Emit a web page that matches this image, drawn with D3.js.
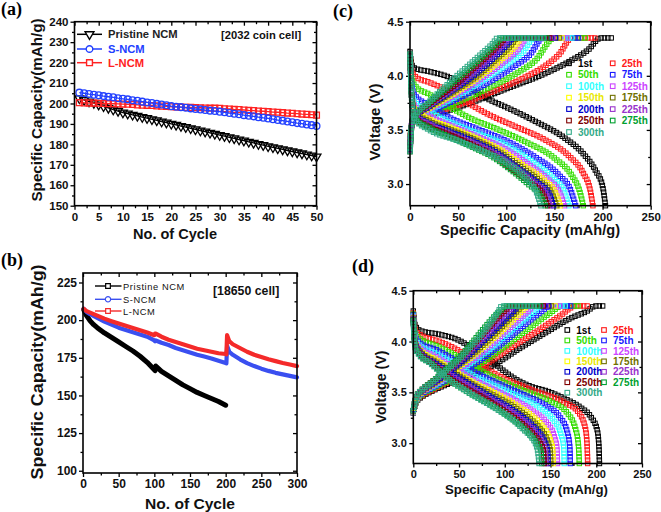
<!DOCTYPE html>
<html><head><meta charset="utf-8">
<script src="https://cdn.jsdelivr.net/npm/d3@7"></script>
<style>
body{margin:0;background:#fff;}
svg{display:block;}
</style></head><body>
<svg id="chart" width="661" height="512"></svg>
<script>
// ---------------- DATA ----------------
// Panel (a): 2032 coin cell, cycles 1..50
const aCycles = d3.range(1, 51);
const aPristine = [202.5,201.7,200.9,200.2,199.4,198.6,197.8,197.0,196.3,195.5,
  195.0,194.4,193.9,193.3,192.8,192.2,191.7,191.1,190.6,190.0,
  189.5,188.9,188.4,187.8,187.3,186.7,186.2,185.6,185.1,184.5,
  184.0,183.4,182.9,182.3,181.8,181.2,180.7,180.1,179.6,179.0,
  178.5,178.0,177.5,177.0,176.5,176.0,175.5,175.0,174.5,174.0];
const aSNCM = [205.3,205.0,204.6,204.3,204.0,203.6,203.3,203.0,202.6,202.3,
  202.0,201.6,201.3,200.9,200.5,200.2,199.8,199.5,199.1,198.7,
  198.4,198.2,197.9,197.6,197.3,197.1,196.8,196.5,196.3,196.0,
  195.7,195.3,195.0,194.7,194.3,194.0,193.7,193.3,193.0,192.7,
  192.3,191.9,191.6,191.2,190.8,190.4,190.1,189.7,189.4,189.0];
const aLNCM = [200.4,200.3,200.2,200.2,200.1,200.0,199.9,199.9,199.8,199.7,
  199.6,199.5,199.3,199.2,199.1,199.0,198.8,198.7,198.6,198.4,
  198.3,198.2,198.1,198.1,198.0,197.9,197.8,197.7,197.7,197.6,
  197.4,197.3,197.1,197.0,196.8,196.6,196.5,196.3,196.2,196.0,
  195.8,195.7,195.5,195.3,195.2,195.0,194.8,194.7,194.5,194.3];
const aYTicks = [150,160,170,180,190,200,210,220,230,240];
const aXTicks = [0,5,10,15,20,25,30,35,40,45,50];

// Panel (b): 18650 cell
const bCycP = [1,5,10,15,20,30,40,50,60,70,80,90,100,101,102,110,120,130,140,150,160,170,180,190,200];
const bPristine = [207,203,199.5,197,195,191.5,188.5,185.5,182.5,179.5,176,172,167,166.5,169.5,166,163,160,157,154.5,152,150,148,146,143.5];
const bCycSL = [1,5,10,20,30,40,50,60,70,80,90,100,101,102,110,120,130,140,150,160,170,180,190,200,201,202,205,210,220,230,240,250,260,270,280,290,300];
const bSNCM = [207.5,205.5,204,201.5,199,197,195,193.5,192,190.5,189,186.5,186,186.5,185,183.5,181.5,180,178.5,177,175.8,174.5,173,171.5,171.3,183,179,177,174,171.5,169.5,167.8,166.3,165,164,163,162];
const bLNCM = [207.5,206,205,203,201,199.3,197.7,196.2,194.8,193.3,191.8,190,191,191,189,187,185.5,184,182.5,181,180,179,178,177.5,177.3,190,186,184,181.5,179,177,175.5,174,172.8,171.5,170.5,169.5];
const bYTicks = [100,125,150,175,200,225];
const bXTicks = [0,50,100,150,200,250,300];

// Panels (c),(d): charge / discharge profiles
const cycLabels = ["1st","25th","50th","75th","100th","125th","150th","175th","200th","225th","250th","275th","300th"];
const cycColors = ["#000000","#ff1a1a","#33dd00","#1a1aff","#33ffff","#cc44ff","#ffff00","#707000","#0000cc","#9933cc","#800000","#00a030","#33aa88"];
const cdXTicks = [0,50,100,150,200,250];
const cdYTicks = [3.0,3.5,4.0,4.5];

const cCharge = [
 [[0,3.42],[2,3.55],[6,3.61],[20,3.64],[40,3.68],[63,3.75],[100,3.88],[140,4.02],[167,4.14],[185,4.24],[198,4.35],[209,4.35]],
 [[0,3.42],[2,3.56],[6,3.62],[20,3.65],[50,3.73],[90,3.87],[120,3.99],[140,4.09],[155,4.2],[168,4.35],[192,4.35]],
 [[0,3.4],[2,3.56],[6,3.62],[20,3.66],[50,3.76],[80,3.88],[110,4.02],[130,4.14],[150,4.35],[182,4.35]],
 [[0,3.38],[2,3.56],[6,3.62],[20,3.67],[50,3.79],[80,3.93],[105,4.07],[125,4.2],[138,4.35],[175,4.35]],
 [[0,3.36],[2,3.56],[5,3.62],[20,3.68],[50,3.82],[80,3.98],[100,4.1],[118,4.23],[129,4.35],[168,4.35]],
 [[0,3.35],[2,3.56],[5,3.62],[20,3.69],[50,3.84],[75,3.98],[95,4.11],[112,4.24],[122,4.35],[163,4.35]],
 [[0,3.34],[2,3.56],[5,3.62],[20,3.7],[50,3.86],[75,4.01],[92,4.13],[108,4.26],[117,4.35],[158,4.35]],
 [[0,3.33],[2,3.56],[5,3.62],[20,3.71],[50,3.88],[70,4.0],[88,4.14],[104,4.27],[112,4.35],[155,4.35]],
 [[0,3.32],[2,3.56],[5,3.62],[20,3.72],[50,3.9],[70,4.03],[85,4.15],[100,4.28],[108,4.35],[151,4.35]],
 [[0,3.31],[2,3.56],[5,3.62],[20,3.73],[50,3.92],[68,4.05],[82,4.16],[96,4.28],[104,4.35],[148,4.35]],
 [[0,3.3],[2,3.56],[5,3.62],[20,3.74],[50,3.94],[65,4.06],[80,4.18],[93,4.29],[100,4.35],[145,4.35]],
 [[0,3.3],[2,3.56],[5,3.62],[20,3.75],[45,3.94],[62,4.07],[77,4.19],[89,4.29],[96,4.35],[142,4.35]],
 [[0,3.3],[2,3.56],[5,3.62],[20,3.76],[40,3.93],[60,4.09],[75,4.21],[86,4.3],[91,4.35],[139,4.35]]
];
const cDischarge = [
 [[0,4.22],[2,4.1],[5,4.07],[20,4.04],[40,3.99],[60,3.9],[80,3.79],[100,3.71],[130,3.58],[160,3.43],[180,3.28],[193,3.12],[200,2.98],[203,2.8]],
 [[0,4.2],[2,4.04],[6,3.99],[20,3.94],[40,3.86],[60,3.75],[80,3.65],[110,3.53],[140,3.41],[165,3.26],[180,3.1],[187,2.95],[190,2.8]],
 [[0,4.2],[2,3.97],[6,3.9],[20,3.83],[40,3.72],[60,3.62],[90,3.51],[120,3.39],[150,3.24],[168,3.08],[176,2.94],[180,2.8]],
 [[0,4.2],[2,3.9],[5,3.82],[20,3.73],[40,3.62],[70,3.51],[100,3.4],[130,3.25],[155,3.08],[167,2.94],[172,2.8]],
 [[0,4.2],[2,3.85],[5,3.76],[20,3.67],[40,3.58],[70,3.47],[100,3.36],[125,3.22],[148,3.06],[160,2.93],[165,2.8]],
 [[0,4.2],[2,3.82],[5,3.72],[20,3.63],[40,3.55],[70,3.44],[100,3.32],[122,3.19],[144,3.04],[155,2.93],[160.5,2.8]],
 [[0,4.2],[2,3.8],[5,3.69],[20,3.6],[40,3.53],[70,3.42],[95,3.31],[118,3.17],[140,3.03],[151,2.92],[156,2.8]],
 [[0,4.2],[2,3.79],[5,3.67],[20,3.58],[40,3.51],[70,3.4],[92,3.3],[115,3.16],[136,3.02],[147,2.92],[152.5,2.8]],
 [[0,4.2],[2,3.78],[5,3.65],[20,3.56],[40,3.49],[70,3.38],[90,3.29],[112,3.15],[133,3.01],[144,2.92],[149,2.8]],
 [[0,4.2],[2,3.77],[5,3.64],[20,3.55],[40,3.47],[70,3.36],[88,3.28],[110,3.14],[130,3.0],[141,2.91],[146,2.8]],
 [[0,4.2],[2,3.76],[5,3.62],[20,3.53],[40,3.46],[70,3.34],[86,3.27],[107,3.13],[127,3.0],[138,2.91],[143,2.8]],
 [[0,4.2],[2,3.76],[5,3.61],[20,3.52],[40,3.44],[70,3.32],[84,3.26],[105,3.13],[124,2.99],[135,2.9],[140.5,2.8]],
 [[0,4.2],[2,3.75],[5,3.6],[20,3.5],[50,3.4],[80,3.29],[100,3.2],[120,3.06],[131,2.93],[136,2.8]]
];
const dCharge = [
 [[0,3.3],[3,3.4],[10,3.46],[20,3.51],[40,3.59],[60,3.66],[88,3.77],[114,3.92],[147,4.1],[172,4.23],[190,4.3],[199,4.35],[207,4.35]],
 [[0,3.3],[3,3.41],[10,3.47],[20,3.52],[40,3.61],[60,3.69],[80,3.78],[105,3.93],[135,4.1],[160,4.25],[178,4.35],[190,4.35]],
 [[0,3.3],[3,3.41],[10,3.48],[20,3.53],[40,3.62],[60,3.71],[80,3.82],[100,3.95],[125,4.12],[148,4.27],[163,4.35],[180,4.35]],
 [[0,3.3],[3,3.42],[10,3.49],[20,3.54],[40,3.64],[60,3.74],[80,3.86],[100,4.0],[120,4.15],[138,4.28],[150,4.35],[172,4.35]],
 [[0,3.31],[3,3.42],[10,3.5],[20,3.55],[40,3.66],[60,3.77],[80,3.9],[100,4.05],[118,4.19],[132,4.29],[140,4.35],[166,4.35]],
 [[0,3.31],[3,3.43],[10,3.5],[20,3.56],[40,3.67],[60,3.79],[80,3.93],[100,4.09],[115,4.21],[126,4.3],[132,4.35],[160,4.35]],
 [[0,3.31],[3,3.43],[10,3.51],[20,3.57],[40,3.69],[60,3.82],[80,3.97],[95,4.09],[110,4.22],[120,4.31],[125,4.35],[155,4.35]],
 [[0,3.32],[3,3.44],[10,3.51],[20,3.57],[40,3.7],[60,3.84],[78,3.98],[92,4.1],[106,4.23],[115,4.31],[120,4.35],[151,4.35]],
 [[0,3.32],[3,3.44],[10,3.52],[20,3.58],[40,3.71],[60,3.86],[75,3.99],[90,4.12],[103,4.24],[111,4.31],[115,4.35],[148,4.35]],
 [[0,3.32],[3,3.44],[10,3.52],[20,3.59],[40,3.73],[55,3.85],[72,4.0],[86,4.13],[98,4.25],[106,4.32],[110,4.35],[145,4.35]],
 [[0,3.32],[3,3.45],[10,3.53],[20,3.6],[40,3.74],[55,3.87],[70,4.01],[83,4.14],[95,4.26],[102,4.32],[106,4.35],[142,4.35]],
 [[0,3.32],[3,3.45],[10,3.53],[20,3.6],[40,3.76],[55,3.89],[68,4.03],[80,4.16],[90,4.26],[97,4.32],[101,4.35],[139,4.35]],
 [[0,3.32],[3,3.45],[10,3.53],[18,3.58],[30,3.67],[55,3.87],[65,3.97],[75,4.07],[85,4.19],[92,4.28],[97,4.35],[136,4.35]]
];
const dDischarge = [
 [[0,4.3],[2,4.16],[7,4.11],[29,4.07],[48,4.02],[62,3.95],[81,3.84],[92,3.76],[110,3.64],[128,3.56],[147,3.51],[165,3.44],[183,3.35],[194,3.26],[201,3.13],[203,2.95],[203.5,2.8]],
 [[0,4.28],[2,4.12],[7,4.07],[29,4.0],[48,3.92],[73,3.77],[92,3.67],[128,3.53],[165,3.4],[180,3.31],[188,3.15],[190,2.98],[190.6,2.8]],
 [[0,4.27],[2,4.08],[7,4.03],[25,3.96],[45,3.87],[65,3.76],[90,3.64],[120,3.52],[150,3.41],[168,3.3],[177,3.15],[180.5,2.98],[181.5,2.8]],
 [[0,4.26],[2,4.05],[7,3.99],[25,3.92],[45,3.82],[65,3.71],[90,3.6],[120,3.48],[145,3.37],[160,3.26],[168,3.12],[171,2.97],[171.6,2.8]],
 [[0,4.25],[2,4.03],[6,3.97],[25,3.88],[45,3.78],[65,3.67],[90,3.56],[115,3.46],[138,3.35],[153,3.23],[161,3.1],[164.5,2.96],[165,2.8]],
 [[0,4.24],[2,4.01],[6,3.95],[25,3.85],[45,3.74],[65,3.63],[90,3.52],[112,3.42],[132,3.31],[146,3.2],[154,3.07],[157,2.95],[157.6,2.8]],
 [[0,4.23],[2,4.0],[6,3.93],[25,3.82],[45,3.71],[65,3.6],[90,3.49],[110,3.39],[128,3.28],[141,3.17],[149,3.05],[152.3,2.94],[152.9,2.8]],
 [[0,4.23],[2,3.99],[6,3.92],[25,3.8],[45,3.69],[65,3.58],[88,3.47],[108,3.37],[125,3.26],[138,3.15],[146,3.04],[149.7,2.93],[150.3,2.8]],
 [[0,4.22],[2,3.98],[6,3.91],[25,3.78],[45,3.67],[65,3.56],[86,3.45],[105,3.35],[122,3.24],[135,3.13],[143,3.03],[146.8,2.93],[147.4,2.8]],
 [[0,4.22],[2,3.97],[6,3.9],[22,3.78],[42,3.66],[62,3.55],[84,3.43],[103,3.33],[120,3.22],[132,3.12],[140,3.02],[144.2,2.92],[144.8,2.8]],
 [[0,4.21],[2,3.96],[6,3.89],[20,3.79],[40,3.64],[60,3.53],[82,3.42],[101,3.31],[118,3.2],[130,3.1],[138,3.01],[142.4,2.92],[143,2.8]],
 [[0,4.21],[2,3.95],[6,3.88],[20,3.78],[40,3.62],[60,3.5],[80,3.4],[98,3.3],[115,3.19],[127,3.09],[135,3.0],[139.8,2.91],[140.4,2.8]],
 [[0,4.2],[2,3.95],[5.5,3.88],[18,3.79],[37,3.64],[55,3.53],[73,3.43],[92,3.33],[110,3.22],[122,3.12],[128,3.07],[135.6,2.94],[137.5,2.8]]
];

// ---------------- DRAWING ----------------
const FONT = '"Liberation Sans", Arial, Helvetica, sans-serif';
const SERIF = '"Liberation Serif", "Times New Roman", serif';
const svg = d3.select('#chart');
svg.append('rect').attr('width',661).attr('height',512).attr('fill','#fff');

function minorBetween(ticks){
  const out=[]; for(let i=0;i<ticks.length-1;i++) out.push((ticks[i]+ticks[i+1])/2); return out;
}

function drawAxes(g, xs, ys, o){
  const [xa,xb]=xs.range(); const [yb,yt]=ys.range();
  const mk=(fn, sc, vals, size, pad, fmt, tx, ty)=>{
    const a=fn(sc).tickValues(vals).tickSize(size).tickPadding(pad).tickFormat(fmt?fmt:()=> '');
    g.append('g').attr('transform',`translate(${tx},${ty})`).call(a);
  };
  const xMin=o.xMin||minorBetween(o.xMaj), yMin=(o.yMin||minorBetween(o.yMaj)).filter(v=>v>=ys.domain()[0]&&v<=ys.domain()[1]);
  mk(d3.axisBottom, xs, o.xMaj, 4, o.xPad, o.xFmt, 0, yb);
  mk(d3.axisBottom, xs, xMin, 2.5, 0, null, 0, yb);
  mk(d3.axisTop, xs, o.xMaj, -4, 0, null, 0, yt);
  mk(d3.axisTop, xs, xMin, -2.5, 0, null, 0, yt);
  mk(d3.axisLeft, ys, o.yMaj, 4, o.yPad, o.yFmt, xa, 0);
  mk(d3.axisLeft, ys, yMin, 2.5, 0, null, xa, 0);
  mk(d3.axisRight, ys, o.yMaj, -4, 0, null, xb, 0);
  mk(d3.axisRight, ys, yMin, -2.5, 0, null, xb, 0);
  g.selectAll('.domain').remove();
  g.selectAll('.tick line').attr('stroke','#000').attr('stroke-width',1.3);
  g.selectAll('.tick text').attr('font-family',FONT).attr('font-size',o.fs).attr('font-weight','bold').attr('fill','#111');
}
function frame(g, xs, ys){
  const [xa,xb]=xs.range(); const [yb,yt]=ys.range();
  g.append('rect').attr('x',xa).attr('y',yt).attr('width',xb-xa).attr('height',yb-yt)
    .attr('fill','none').attr('stroke','#000').attr('stroke-width',1.6);
}
function yTitle(g, txt, cx, cy, len, fs){
  g.append('text').attr('transform',`translate(${cx},${cy}) rotate(-90)`).attr('text-anchor','middle')
   .attr('dy','0.35em').attr('font-family',FONT).attr('font-weight','bold').attr('font-size',fs)
   .attr('textLength',len).attr('lengthAdjust','spacingAndGlyphs').attr('fill','#111').text(txt);
}
function xTitle(g, txt, cx, by, len, fs){
  g.append('text').attr('x',cx).attr('y',by).attr('text-anchor','middle')
   .attr('font-family',FONT).attr('font-weight','bold').attr('font-size',fs)
   .attr('textLength',len).attr('lengthAdjust','spacingAndGlyphs').attr('fill','#111').text(txt);
}
function panelLabel(txt, x, y){
  svg.append('text').attr('x',x).attr('y',y).attr('font-family',SERIF).attr('font-weight','bold')
    .attr('font-size',18).attr('fill','#000').text(txt);
}

// ===== Panel (a) =====
{
  const g = svg.append('g');
  const xs = d3.scaleLinear().domain([0,50]).range([74.5,316.5]);
  const ys = d3.scaleLinear().domain([150,240]).range([205.7,21.7]);
  drawAxes(g, xs, ys, {xMaj:aXTicks, yMaj:aYTicks, xPad:3, yPad:2, xFmt:d3.format('d'), yFmt:d3.format('d'), fs:11.5});
  const series = [
    {v:aPristine, c:'#000000', sym:'tri'},
    {v:aLNCM, c:'#ff2222', sym:d3.symbolSquare},
    {v:aSNCM, c:'#2240ff', sym:d3.symbolCircle}
  ];
  const line = d3.line().x((d,i)=>xs(aCycles[i])).y(d=>ys(d));
  series.forEach(s=>{
    g.append('path').attr('d',line(s.v)).attr('fill','none').attr('stroke',s.c).attr('stroke-width',1.3);
    g.selectAll(null).data(s.v).enter().append('path')
      .attr('d', s.sym==='tri' ? d3.symbol(d3.symbolTriangle,34)() : d3.symbol(s.sym, s.sym===d3.symbolSquare?34:36)())
      .attr('transform',(d,i)=>`translate(${xs(aCycles[i])},${ys(d)})${s.sym==='tri'?' rotate(180)':''}`)
      .attr('fill','none').attr('stroke',s.c).attr('stroke-width',1.3);
  });
  frame(g, xs, ys);
  // legend
  const leg = [
    {t:'Pristine NCM', c:'#000000', sym:'tri', tc:'#222'},
    {t:'S-NCM', c:'#2240ff', sym:d3.symbolCircle, tc:'#2240ff'},
    {t:'L-NCM', c:'#ff2222', sym:d3.symbolSquare, tc:'#ff2222'}
  ];
  const rows=[34.3,49,62.7];
  leg.forEach((l,i)=>{
    g.append('line').attr('x1',77).attr('x2',102).attr('y1',rows[i]).attr('y2',rows[i]).attr('stroke',l.c).attr('stroke-width',1.5);
    g.append('path').attr('d', l.sym==='tri'? d3.symbol(d3.symbolTriangle,34)() : d3.symbol(l.sym,34)())
      .attr('transform',`translate(89.5,${rows[i]})${l.sym==='tri'?' rotate(180)':''}`)
      .attr('fill','#fff').attr('stroke',l.c).attr('stroke-width',1.4);
    g.append('text').attr('x',108).attr('y',rows[i]+4).attr('font-family',FONT).attr('font-weight','bold')
      .attr('font-size',11.2).attr('fill',l.tc).text(l.t);
  });
  g.append('text').attr('x',221).attr('y',38.5).attr('font-family',FONT).attr('font-weight','bold')
    .attr('font-size',11.2).attr('fill','#111').text('[2032 coin cell]');
  yTitle(g,'Specific Capacity(mAh/g)',37,110,183,15);
  xTitle(g,'No. of Cycle',175,239,84,14.5);
  panelLabel('(a)',1,15);
}

// ===== Panel (b) =====
{
  const g = svg.append('g');
  const xs = d3.scaleLinear().domain([0,300]).range([83,297]);
  const ys = d3.scaleLinear().domain([98.5,231.3]).range([473,273]);
  drawAxes(g, xs, ys, {xMaj:bXTicks, yMaj:bYTicks, xPad:2.5, yPad:2, xFmt:d3.format('d'), yFmt:d3.format('d'), fs:12});
  const series = [
    {x:bCycP, v:bPristine, c:'#000000', w:5},
    {x:bCycSL, v:bSNCM, c:'#3a4ff0', w:4.2},
    {x:bCycSL, v:bLNCM, c:'#f42a2a', w:4.2}
  ];
  series.forEach(s=>{
    const line = d3.line().x((d,i)=>xs(s.x[i])).y(d=>ys(d));
    g.append('path').attr('d',line(s.v)).attr('fill','none').attr('stroke',s.c).attr('stroke-width',s.w)
      .attr('stroke-linejoin','round').attr('stroke-linecap','round');
  });
  frame(g, xs, ys);
  const leg=[
    {t:'Pristine NCM', c:'#000', sym:d3.symbolSquare},
    {t:'S-NCM', c:'#3a4ff0', sym:d3.symbolCircle},
    {t:'L-NCM', c:'#f42a2a', sym:d3.symbolSquare}
  ];
  const rows=[286,299.3,311];
  leg.forEach((l,i)=>{
    g.append('line').attr('x1',95).attr('x2',121.5).attr('y1',rows[i]).attr('y2',rows[i]).attr('stroke',l.c).attr('stroke-width',1.4);
    g.append('path').attr('d',d3.symbol(l.sym,22)()).attr('transform',`translate(108,${rows[i]})`)
      .attr('fill','#fff').attr('stroke',l.c).attr('stroke-width',1.2);
    g.append('text').attr('x',123).attr('y',rows[i]+3.5).attr('font-family',FONT)
      .attr('font-size',9.3).attr('letter-spacing',0.6).attr('fill','#111').text(l.t);
  });
  g.append('text').attr('x',213).attr('y',294.5).attr('font-family',FONT).attr('font-weight','bold')
    .attr('font-size',12.3).attr('fill','#111').text('[18650 cell]');
  yTitle(g,'Specific Capacity(mAh/g)',37,372,215,17);
  xTitle(g,'No. of Cycle',190,509,90,15.5);
  panelLabel('(b)',1,266);
}

// ===== Panels (c) and (d) =====
function voltagePanel(cfg){
  const g = svg.append('g');
  const xs = d3.scaleLinear().domain([0,250]).range(cfg.xr);
  const ys = d3.scaleLinear().domain([2.8,4.5]).range(cfg.yr);
  drawAxes(g, xs, ys, {xMaj:cdXTicks, yMaj:cdYTicks, xPad:3, yPad:2.5, xFmt:d3.format('d'), yFmt:d3.format('.1f'), fs:cfg.fs});
  const line = d3.line().x(d=>xs(d[0])).y(d=>ys(d[1])).curve(d3.curveMonotoneX);
  const step = 3.4, half = 2.2;
  cfg.charge.forEach((ch,ci)=>{
    [ch, cfg.discharge[ci]].forEach(pts=>{
      const p = g.append('path').attr('d',line(pts)).attr('fill','none').attr('stroke','none');
      const node = p.node(); const L = node.getTotalLength();
      const n = Math.max(1, Math.round(L/step));
      const marks = d3.range(n+1).map(i=>node.getPointAtLength(L*i/n));
      g.selectAll(null).data(marks).enter().append('rect')
        .attr('x',d=>d.x-half).attr('y',d=>d.y-half).attr('width',half*2).attr('height',half*2)
        .attr('fill','none').attr('stroke',cycColors[ci]).attr('stroke-width',1);
      p.remove();
    });
  });
  frame(g, xs, ys);
  // legend
  cycLabels.forEach((lab,i)=>{
    const col = i%2, row = Math.floor(i/2);
    const mx = cfg.legX[col], ty = cfg.legY0 + row*cfg.legDy;
    g.append('rect').attr('x',mx-2.3).attr('y',ty-2.3).attr('width',4.6).attr('height',4.6)
      .attr('fill','none').attr('stroke',cycColors[i]).attr('stroke-width',1.1);
    g.append('text').attr('x',mx+9).attr('y',ty+3.6).attr('font-family',FONT).attr('font-weight','bold')
      .attr('font-size',cfg.legFs).attr('fill',i===6?'#e8e800':cycColors[i]).text(lab);
  });
  yTitle(g,'Voltage (V)',cfg.yt[0],cfg.yt[1],cfg.yt[2],cfg.yt[3]);
  xTitle(g,'Specific Capacity (mAh/g)',cfg.xt[0],cfg.xt[1],cfg.xt[2],cfg.xt[3]);
}
voltagePanel({xr:[410,650.7], yr:[205.7,21.7], fs:11.5, charge:cCharge, discharge:cDischarge,
  legX:[569,612.7], legY0:63.3, legDy:11.45, legFs:10,
  yt:[374.5,122,77,14.5], xt:[530,235,180,14.6]});
panelLabel('(c)',333,16.5);
voltagePanel({xr:[413.3,642], yr:[463.5,290.7], fs:11, charge:dCharge, discharge:dDischarge,
  legX:[567.3,604], legY0:330, legDy:10.45, legFs:10,
  yt:[381,387,73,14], xt:[526.5,494,163,13.2]});
panelLabel('(d)',352,271.5);
</script>
</body></html>
